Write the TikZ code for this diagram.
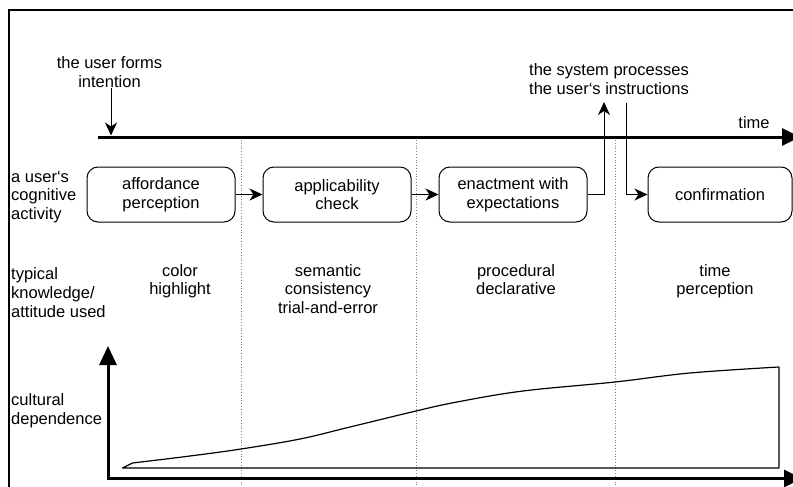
\documentclass[tikz,border=0pt]{standalone}
\usepackage{fontspec}
\setmainfont{Liberation Sans}
\usetikzlibrary{arrows.meta}

\begin{document}
\begin{tikzpicture}[x=1pt, y=-1pt, font=\fontsize{16.5}{18.7}\selectfont,
        activity/.style={draw, line width=1pt, rounded corners=11pt, minimum width=148pt,
            minimum height=55pt, align=center, inner sep=0pt},
        caption/.style={align=center, inner sep=0pt},
        rowlabel/.style={align=left, anchor=west, inner sep=0pt},
        flow/.style={line width=1pt, -{Stealth[length=13pt, width=12pt, inset=4pt]}},
        axis/.style={line width=3pt},
        phase/.style={gray, dotted, line width=0.8pt}]
        \clip (0, 0) rectangle (793, 487);
        \fill[white] (0, 0) rectangle (793, 487);
        \draw[line width=1.8pt] (9, 500) -- (9, 10) -- (810, 10);

        \foreach \x in {241, 416, 615}
            \draw[phase] (\x, 140) -- (\x, 490);

        \coordinate (t0) at (98, 137);
        \coordinate (tend) at (800, 137);
        \draw[axis, -{Triangle[length=18pt, width=17pt]}] (t0) -- (tend);
        \node[caption] (timelbl) at (754, 123) {time};

        \node[caption] (intent) at (109.5, 72) {the user forms\\intention};
        \coordinate (formpt) at (111, 135.5);
        \draw[flow] (intent.south -| formpt) -- (formpt);

        \node[caption] (sysproc) at (609, 79) {the system processes\\the user‘s instructions};
        \coordinate (sysin) at (604, 102);
        \coordinate (sysout) at (626, 103);

        \node[activity] (afford) at (161, 194.5) {affordance\\perception};
        \node[activity] (apply) at (337, 194.5) {applicability\\check};
        \node[activity] (enact) at (513, 194.5) {enactment with\\expectations};
        \node[activity, minimum width=144pt] (confirm) at (720, 194.5) {confirmation};

        \draw[flow] (afford) -- (apply);
        \draw[flow] (apply) -- (enact);
        \draw[flow] (enact.east) -| (sysin);
        \draw[flow] (sysout) |- (confirm.west);

        \node[rowlabel] (rowact) at (11, 197) {a user‘s\\cognitive\\activity};
        \node[rowlabel] (rowknow) at (11, 292.5) {typical\\knowledge/\\attitude used};
        \node[rowlabel] (rowcult) at (11, 411) {cultural\\dependence};

        \node[caption, anchor=north] (know1) at (180, 264) {color\\highlight};
        \node[caption, anchor=north] (know2) at (328, 264) {semantic\\consistency\\trial-and-error};
        \node[caption, anchor=north] (know3) at (516, 264) {procedural\\declarative};
        \node[caption, anchor=north] (know4) at (715, 264) {time\\perception};

        \draw[line width=1.2pt, line join=round] (122.5, 468) -- plot[smooth, tension=0.6] coordinates {(132.5, 463) (190, 456) (241, 449)
            (300, 439) (350, 427) (416, 411) (457, 402) (523, 391) (615, 382) (690, 373) (779, 367)}
            -- (779, 468) -- cycle;

        \coordinate (ytip) at (108, 346);
        \coordinate (xtip) at (802, 478.5);
        \draw[axis, {Triangle[length=19pt, width=17pt]}-{Triangle[length=18pt, width=17pt]}] (ytip) |- (xtip);
    \end{tikzpicture}
\end{document}
